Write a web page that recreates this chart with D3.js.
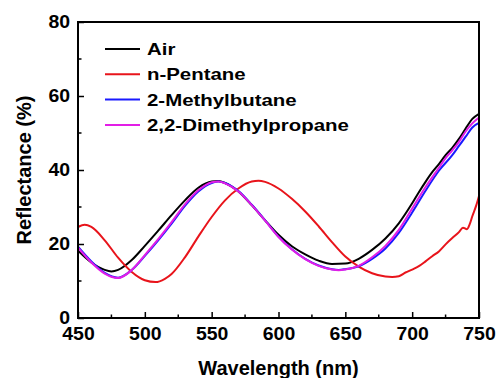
<!DOCTYPE html>
<html>
<head>
<meta charset="utf-8">
<script src="https://cdn.jsdelivr.net/npm/d3@7"></script>
<style>
  body { margin: 0; background: #fff; }
  svg { font-family: "Liberation Sans", Arial, sans-serif; font-weight: bold; }
</style>
</head>
<body>
<div id="chart"></div>
<script>
// Reflectance spectra
const airWl = [450, 460, 470, 475, 480, 490, 500, 510, 520, 530, 540, 550, 555, 560, 570, 580, 590, 600, 610, 620, 630, 640, 650, 660, 670, 680, 690, 700, 705, 710, 715, 720, 725, 730, 735, 740, 745, 750];
const airR  = [18.2, 15.0, 13.0, 12.6, 13.0, 15.6, 19.5, 23.6, 27.8, 31.8, 35.2, 36.9, 37.0, 36.5, 34.2, 30.5, 26.4, 22.5, 19.4, 17.2, 15.5, 14.6, 14.7, 16.0, 18.4, 21.5, 25.6, 31.0, 34.0, 36.8, 39.4, 41.6, 44.0, 46.0, 48.4, 51.2, 53.8, 55.2];

const pentaneWl = [450, 455, 460, 470, 480, 490, 500, 508, 515, 520, 530, 540, 550, 560, 570, 580, 585, 590, 600, 610, 620, 630, 640, 650, 660, 670, 680, 685, 690, 695, 700, 705, 710, 715, 720, 725, 730, 735, 738, 741, 743, 745, 748, 750];
const pentaneR  = [24.6, 25.2, 24.6, 21.0, 16.3, 12.5, 10.2, 9.7, 10.6, 11.9, 16.4, 22.0, 27.3, 31.8, 35.0, 36.9, 37.1, 36.8, 35.0, 32.2, 28.8, 24.8, 20.5, 16.6, 13.9, 12.1, 11.2, 11.1, 11.3, 12.3, 13.1, 14.0, 15.3, 16.7, 18.0, 19.9, 21.6, 23.2, 24.4, 24.0, 25.3, 27.5, 30.5, 33.0];

const methylbutaneWl = [450, 460, 470, 480, 490, 500, 510, 520, 530, 540, 550, 555, 560, 570, 580, 590, 600, 610, 620, 630, 640, 645, 650, 660, 670, 680, 690, 700, 710, 720, 730, 735, 740, 745, 750];
const methylbutaneR  = [19.3, 15.3, 12.2, 10.9, 12.9, 16.8, 21.0, 25.5, 30.3, 34.2, 36.5, 36.9, 36.5, 34.3, 30.6, 26.4, 22.0, 18.6, 16.0, 14.2, 13.2, 13.0, 13.2, 14.0, 16.0, 18.8, 23.0, 28.5, 34.4, 39.8, 44.0, 46.5, 49.0, 51.5, 52.7];

const dimethylpropaneWl = [450, 460, 470, 480, 490, 500, 510, 520, 530, 540, 550, 555, 560, 570, 580, 590, 600, 610, 620, 630, 640, 645, 650, 660, 670, 680, 690, 700, 710, 720, 725, 730, 735, 740, 745, 750];
const dimethylpropaneR  = [19.0, 15.0, 12.0, 10.8, 12.9, 17.0, 21.3, 25.9, 30.7, 34.5, 36.7, 36.9, 36.4, 34.2, 30.5, 26.3, 21.9, 18.5, 15.9, 14.1, 13.1, 12.9, 13.1, 14.1, 16.4, 19.5, 23.8, 29.6, 35.4, 40.6, 43.2, 45.3, 47.6, 50.4, 52.6, 54.2];

const seriesNames = ["Air", "n-Pentane", "2-Methylbutane", "2,2-Dimethylpropane"];
const seriesColors = ["#000000", "#e8141b", "#1a1aff", "#e21ee6"];
const xTicks = [450, 500, 550, 600, 650, 700, 750];
const yTicks = [0, 20, 40, 60, 80];

const series = [
    { name: seriesNames[0], wl: airWl, r: airR },
    { name: seriesNames[1], wl: pentaneWl, r: pentaneR },
    { name: seriesNames[2], wl: methylbutaneWl, r: methylbutaneR },
    { name: seriesNames[3], wl: dimethylpropaneWl, r: dimethylpropaneR }
];

const width = 498, height = 378;
const margin = { top: 22, right: 19, bottom: 60, left: 78 };
const innerWidth = width - margin.left - margin.right;
const innerHeight = height - margin.top - margin.bottom;

// the figure's font is a widened Arial bold, so stretch glyphs a bit
function stretch(sel, f) {
    sel.each(function () {
        const w = this.getComputedTextLength();
        d3.select(this).attr("textLength", w * f).attr("lengthAdjust", "spacingAndGlyphs");
    });
}

const svg = d3.select("#chart").append("svg")
    .attr("width", width)
    .attr("height", height);

const g = svg.append("g")
    .attr("transform", `translate(${margin.left},${margin.top})`);

const x = d3.scaleLinear().domain([450, 750]).range([0, innerWidth]);
const y = d3.scaleLinear().domain([0, 80]).range([innerHeight, 0]);

g.append("clipPath").attr("id", "clip")
    .append("rect").attr("width", innerWidth).attr("height", innerHeight);

const line = d3.line()
    .x(d => x(d[0]))
    .y(d => y(d[1]))
    .curve(d3.curveMonotoneX);

series.forEach((s, i) => {
    g.append("path")
        .datum(s.wl.map((w, j) => [w, s.r[j]]))
        .attr("clip-path", "url(#clip)")
        .attr("fill", "none")
        .attr("stroke", seriesColors[i])
        .attr("stroke-width", 2)
        .attr("stroke-linejoin", "round")
        .attr("d", line);
});

// axes, ticks pointing inward
const minorX = d3.range(475, 750, 50);
const minorY = d3.range(10, 80, 20);

const xAxis = g.append("g")
    .attr("transform", `translate(0,${innerHeight})`)
    .call(d3.axisBottom(x).tickValues(xTicks).tickSize(-6).tickPadding(0).tickFormat(d3.format("d")));
xAxis.selectAll(".tick text").attr("y", 21.5).attr("dy", null);
xAxis.append("g").selectAll("line").data(minorX).join("line")
    .attr("x1", d => x(d)).attr("x2", d => x(d))
    .attr("y1", 0).attr("y2", -3.5)
    .attr("stroke", "#000").attr("stroke-width", 1.5);

const yAxis = g.append("g")
    .call(d3.axisLeft(y).tickValues(yTicks).tickSize(-6).tickPadding(8));
yAxis.append("g").selectAll("line").data(minorY).join("line")
    .attr("x1", 0).attr("x2", 3.5)
    .attr("y1", d => y(d)).attr("y2", d => y(d))
    .attr("stroke", "#000").attr("stroke-width", 1.5);

[xAxis, yAxis].forEach(ax => {
    ax.select(".domain").remove();
    ax.selectAll(".tick line").attr("stroke", "#000").attr("stroke-width", 1.5);
    ax.selectAll(".tick text")
        .attr("fill", "#000")
        .style("font-size", "18px")
        .style("font-weight", "bold")
        .style("font-family", "'Liberation Sans', Arial, sans-serif")
        .call(stretch, 1.08);
});

// frame
g.append("rect")
    .attr("width", innerWidth)
    .attr("height", innerHeight)
    .attr("fill", "none")
    .attr("stroke", "#000")
    .attr("stroke-width", 2);

// axis titles
svg.append("text")
    .attr("x", margin.left + innerWidth / 2)
    .attr("y", 375)
    .attr("text-anchor", "middle")
    .style("font-size", "20px")
    .text("Wavelength (nm)");

svg.append("text")
    .attr("transform", `translate(31,${margin.top + innerHeight / 2}) rotate(-90)`)
    .attr("text-anchor", "middle")
    .style("font-size", "20px")
    .text("Reflectance (%)");

// legend
const legend = g.append("g").attr("transform", "translate(27,27)");
series.forEach((s, i) => {
    const row = legend.append("g").attr("transform", `translate(0,${i * 25.3})`);
    row.append("line")
        .attr("x1", 0).attr("x2", 35)
        .attr("stroke", seriesColors[i])
        .attr("stroke-width", 2);
    row.append("text")
        .attr("x", 42)
        .attr("dy", "0.36em")
        .style("font-size", "17px")
        .text(s.name)
        .call(stretch, 1.2);
});
</script>
</body>
</html>
